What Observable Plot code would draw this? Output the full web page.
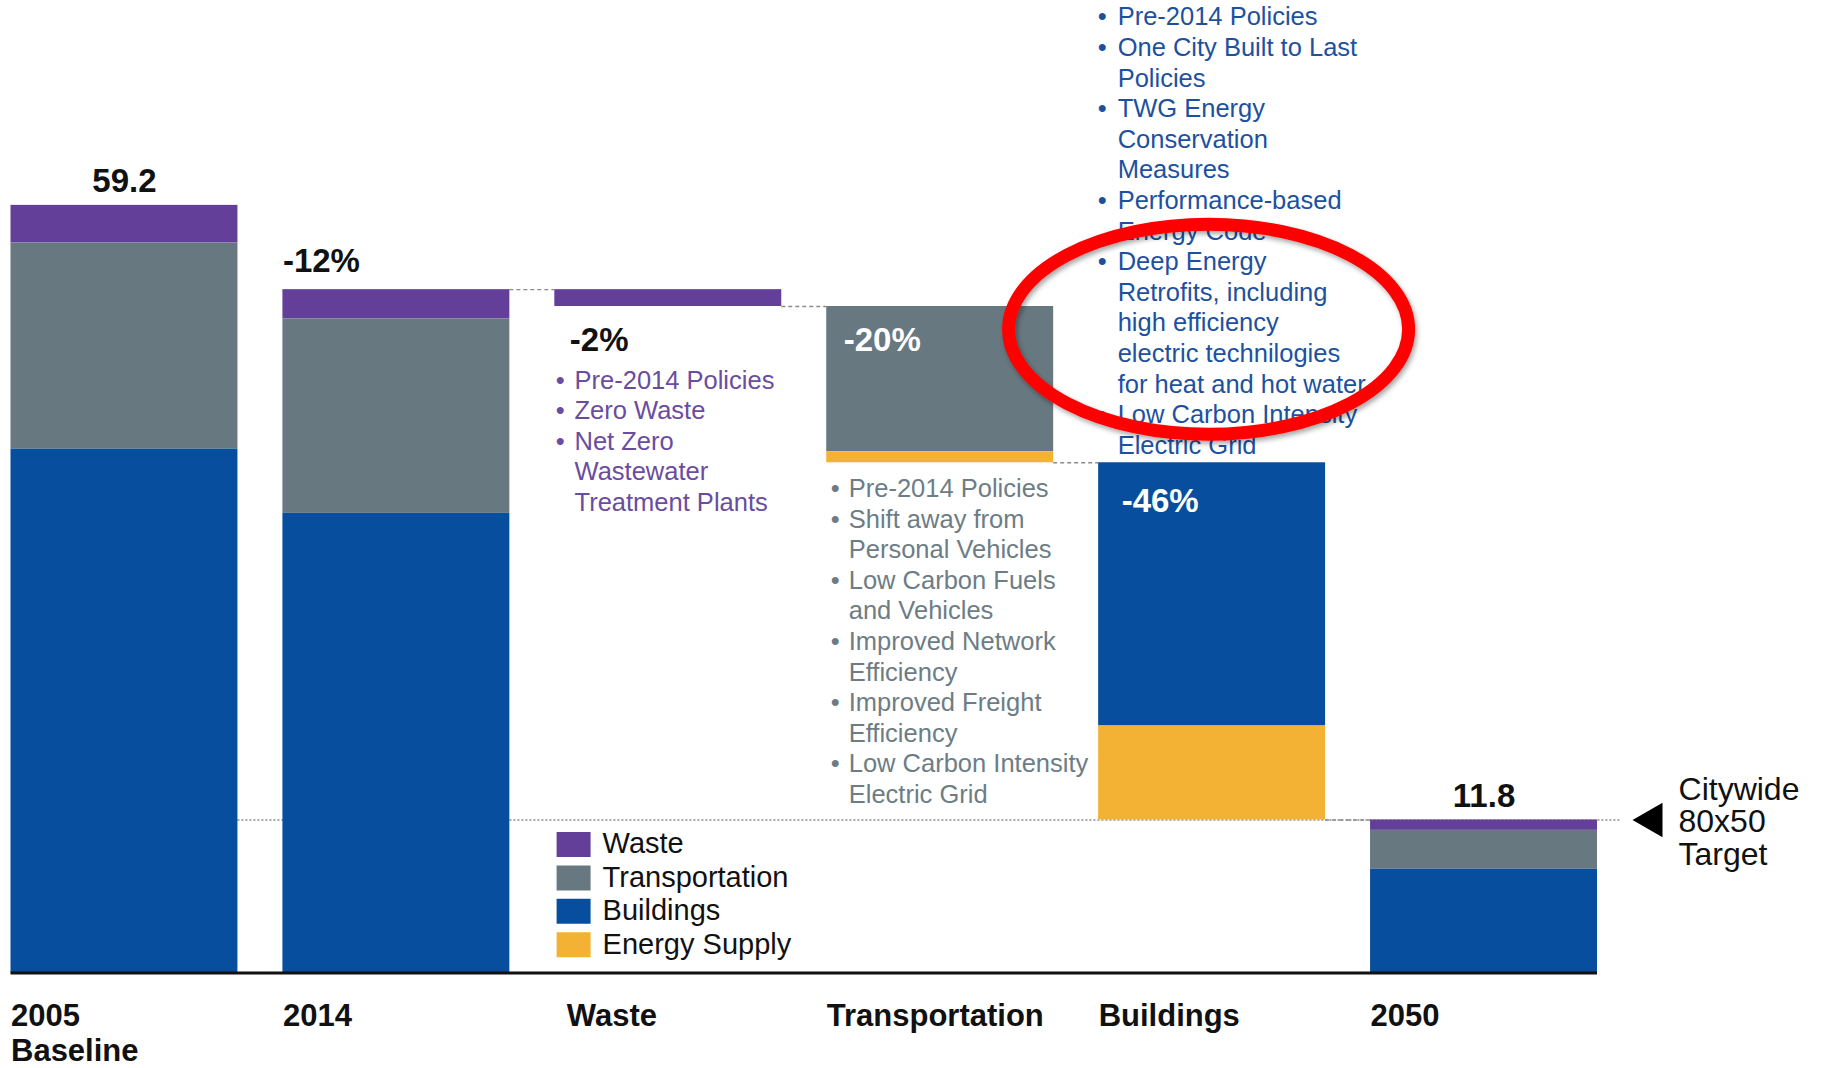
<!DOCTYPE html>
<html>
<head>
<meta charset="utf-8">
<script src="https://cdn.jsdelivr.net/npm/d3@7"></script>
<script src="https://cdn.jsdelivr.net/npm/@observablehq/plot@0.6"></script>
<style>
html, body { margin: 0; padding: 0; background: #fff; }
#chart { width: 1822px; height: 1068px; overflow: hidden; }
</style>
</head>
<body>
<div id="chart"></div>
<script>
// ---------------- DATA ----------------
const categories = ["2005", "2014", "Waste", "Transportation", "Buildings", "2050"];
const axisLabels = ["2005\nBaseline", "2014", "Waste", "Transportation", "Buildings", "2050"];
const barKinds = ["total", "total", "step", "step", "step", "total"];
const sectors = ["Waste", "Transportation", "Buildings", "Energy Supply"];
const sectorColors = ["#633f99", "#687880", "#074f9e", "#f3b234"];

const wasteValues          = [2.9, 2.25, 1.3, 0,    0,     0.8];
const transportationValues = [15.9, 15.0, 0,   11.2, 0,     3.0];
const buildingsValues      = [40.4, 35.45, 0,  0,    20.3,  8.0];
const energySupplyValues   = [0,    0,    0,   0.85, 7.25,  0];

const valueLabels = ["59.2", "-12%", "-2%", "-20%", "-46%", "11.8"];
const targetValue = 11.8;
const targetLabel = "Citywide\n80x50\nTarget";

const wasteMeasures = [
  ["Pre-2014 Policies"],
  ["Zero Waste"],
  ["Net Zero", "Wastewater", "Treatment Plants"]
];
const transportationMeasures = [
  ["Pre-2014 Policies"],
  ["Shift away from", "Personal Vehicles"],
  ["Low Carbon Fuels", "and Vehicles"],
  ["Improved Network", "Efficiency"],
  ["Improved Freight", "Efficiency"],
  ["Low Carbon Intensity", "Electric Grid"]
];
const buildingsMeasures = [
  ["Pre-2014 Policies"],
  ["One City Built to Last", "Policies"],
  ["TWG Energy", "Conservation", "Measures"],
  ["Performance-based", "Energy Code"],
  ["Deep Energy", "Retrofits, including", "high efficiency", "electric technilogies", "for heat and hot water"],
  ["Low Carbon Intensity", "Electric Grid"]
];

// ---------------- DERIVED TABLES ----------------
const seriesBySector = [wasteValues, transportationValues, buildingsValues, energySupplyValues];
const rows = [];
const bars = [];
let level = 0;
categories.forEach((c, i) => {
  const total = d3.sum(seriesBySector, s => s[i]);
  const top = barKinds[i] === "total" ? total : level;
  let y = top;
  sectors.forEach((s, k) => {
    const v = seriesBySector[k][i];
    if (v > 0) rows.push({category: c, sector: s, y1: y - v, y2: y});
    y -= v;
  });
  level = barKinds[i] === "total" ? total : level - total;
  bars.push({category: c, top, bottom: y, label: valueLabels[i], axis: axisLabels[i]});
});
const connectors = d3.range(1, categories.length - 1).map(i => ({
  from: categories[i], to: categories[i + 1],
  y: barKinds[i] === "total" ? bars[i].top : bars[i].bottom
}));

function listText(items) {
  const bullets = [], lines = [];
  items.forEach(item => item.forEach((l, j) => { bullets.push(j === 0 ? "\u2022" : ""); lines.push(l); }));
  return {bullets: bullets.join("\n"), body: lines.join("\n"), n: lines.length};
}

// ---------------- LAYOUT ----------------
const FONT = "'Liberation Sans', Arial, Helvetica, sans-serif";
const W = 1822, H = 1068, ML = 10.5, MR = 225, MT = 0, MB = 95.5, PAD = 0.1654;
const BW = (W - ML - MR) / (categories.length - PAD) * (1 - PAD);
const HALF = BW / 2;
const LIST_FS = 25.5, LIST_LH = 1.2, STEP = LIST_FS * LIST_LH;

function measureMarks(items, category, yField, firstOffset, bulletDx, textDx, color, fromBottomLine) {
  const t = listText(items);
  const dy = fromBottomLine === undefined ? firstOffset + (t.n - 1) * STEP : fromBottomLine;
  const base = {x: () => category, y: () => bars[categories.indexOf(category)][yField],
    lineAnchor: "bottom", textAnchor: "start", fontFamily: FONT, fontSize: LIST_FS,
    lineHeight: LIST_LH, fill: color, dy};
  return [
    Plot.text([t], {...base, text: d => d.bullets, dx: -HALF + bulletDx}),
    Plot.text([t], {...base, text: d => d.body, dx: -HALF + textDx})
  ];
}

const boldLabel = {fontFamily: FONT, fontWeight: "bold", fontSize: 33, lineAnchor: "bottom"};
const axisStyle = {textAnchor: "start", lineAnchor: "top", dy: 28.5,
  fontFamily: FONT, fontWeight: "bold", fontSize: 31, lineHeight: 1.13, fill: "#111"};

const legendMarks = sectors.flatMap((s, i) => [
  Plot.dot([s], {x: () => "Waste", y: () => targetValue, dx: -94.7, dy: 24.5 + i * 33.4,
    r: 5, symbol: {draw(ctx) { ctx.rect(-17, -12.5, 34, 25); }}, fill: sectorColors[i], stroke: "none"}),
  Plot.text([s], {x: () => "Waste", y: () => targetValue, dx: -65.7, dy: 33.5 + i * 33.4,
    text: d => d, textAnchor: "start", lineAnchor: "bottom", fontFamily: FONT, fontSize: 29, fill: "#111"})
]);

const plot = Plot.plot({
  width: W, height: H,
  marginLeft: ML, marginRight: MR, marginTop: MT, marginBottom: MB,
  x: {type: "band", domain: categories, paddingInner: PAD, paddingOuter: 0, align: 0.5, round: false, axis: null},
  y: {domain: [0, 75], axis: null},
  color: {domain: sectors, range: sectorColors},
  style: {fontFamily: FONT, background: "#fff", overflow: "visible"},
  marks: [
    Plot.ruleY([targetValue], {x1: () => "2005", x2: () => "2050", insetLeft: BW, insetRight: -23,
      stroke: "#8c8c8c", strokeWidth: 1.3, strokeDasharray: "2,2"}),
    Plot.ruleY(connectors, {y: "y", x1: "from", x2: "to", insetLeft: BW, insetRight: BW,
      stroke: "#8c8c8c", strokeWidth: 1.3, strokeDasharray: "4,3"}),
    Plot.barY(rows, {x: "category", y1: "y1", y2: "y2", fill: "sector"}),
    Plot.ruleY([0], {stroke: "#111", strokeWidth: 3}),

    // value labels
    Plot.text(bars.filter(b => b.category === "2005" || b.category === "2050"),
      {x: "category", y: "top", text: "label", dy: -13, fill: "#111", ...boldLabel}),
    Plot.text(bars.filter(b => b.category === "2014"),
      {x: "category", y: "top", text: "label", textAnchor: "start", dx: -HALF, dy: -18, fill: "#111", ...boldLabel}),
    Plot.text(bars.filter(b => b.category === "Waste"),
      {x: "category", y: "bottom", text: "label", textAnchor: "start", dx: -HALF + 15, dy: 44, fill: "#111", ...boldLabel}),
    Plot.text(bars.filter(b => b.category === "Transportation"),
      {x: "category", y: "top", text: "label", textAnchor: "start", dx: -HALF + 17, dy: 44, fill: "#fff", ...boldLabel}),
    Plot.text(bars.filter(b => b.category === "Buildings"),
      {x: "category", y: "top", text: "label", textAnchor: "start", dx: -HALF + 23, dy: 49, fill: "#fff", ...boldLabel}),

    // category labels (below baseline)
    Plot.text(bars.filter(b => b.category !== "Waste"),
      {x: "category", y: () => 0, text: "axis", dx: -HALF, ...axisStyle}),
    Plot.text(bars.filter(b => b.category === "Waste"),
      {x: "category", y: () => 0, text: "axis", dx: -HALF + 12, ...axisStyle}),

    // measure lists
    ...measureMarks(wasteMeasures, "Waste", "bottom", 82, 1, 19.7, "#6a4ca0"),
    ...measureMarks(transportationMeasures, "Transportation", "bottom", 34.3, 4, 22, "#6d7d85"),
    ...measureMarks(buildingsMeasures, "Buildings", "top", 0, -1, 19, "#1d51a0", -9),

    // legend
    ...legendMarks,

    // target arrow + label
    Plot.dot([targetValue], {x: () => "2050", y: d => d, dx: 168.5, symbol: "triangle", r: 12.86,
      rotate: -90, fill: "#000", stroke: "none"}),
    Plot.text([targetLabel], {x: () => "2050", y: () => targetValue, text: d => d, dx: 194.5, dy: 45,
      textAnchor: "start", lineAnchor: "bottom", fontFamily: FONT, fontSize: 32, lineHeight: 1.02, fill: "#111"})
  ]
});

// red highlight ellipse around the Deep Energy Retrofits item
const svg = d3.select(plot.tagName.toLowerCase() === "svg" ? plot : plot.querySelector("svg"));
const sx = plot.scale("x"), sy = plot.scale("y");
const defs = svg.append("defs");
const f = defs.append("filter").attr("id", "ellipse-shadow")
  .attr("x", "-20%").attr("y", "-30%").attr("width", "140%").attr("height", "160%");
f.append("feDropShadow").attr("dx", 2).attr("dy", 3).attr("stdDeviation", 2.5)
  .attr("flood-color", "#000").attr("flood-opacity", 0.35);
svg.append("ellipse")
  .attr("cx", sx.apply("Buildings") + BW / 2 - 3)
  .attr("cy", sy.apply(bars[4].top) - 133)
  .attr("rx", 200).attr("ry", 105)
  .attr("fill", "none").attr("stroke", "#ff0000").attr("stroke-width", 13)
  .attr("filter", "url(#ellipse-shadow)");

document.getElementById("chart").appendChild(plot);
</script>
</body>
</html>
